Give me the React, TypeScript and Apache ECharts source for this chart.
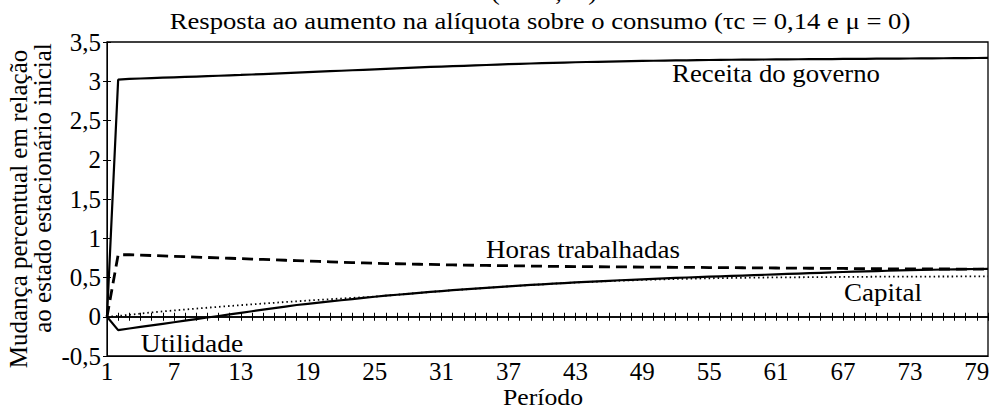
import React, { useEffect, useRef } from "react";
import * as echarts from "echarts";

const FONT = "Liberation Serif";

const periods: string[] = Array.from({ length: 80 }, (_, i) => String(i + 1));

const receita: number[] = [
  0, 3.02, 3.03, 3.035, 3.04, 3.045, 3.05, 3.055, 3.06, 3.065,
  3.07, 3.075, 3.08, 3.086, 3.092, 3.098, 3.104, 3.11, 3.116, 3.122,
  3.128, 3.134, 3.14, 3.146, 3.152, 3.158, 3.164, 3.17, 3.176, 3.182,
  3.187, 3.192, 3.197, 3.202, 3.207, 3.212, 3.217, 3.222, 3.226, 3.23,
  3.234, 3.238, 3.242, 3.245, 3.248, 3.251, 3.254, 3.257, 3.259, 3.261,
  3.263, 3.265, 3.267, 3.269, 3.271, 3.273, 3.274, 3.275, 3.276, 3.277,
  3.278, 3.279, 3.28, 3.281, 3.282, 3.283, 3.284, 3.285, 3.286, 3.287,
  3.288, 3.289, 3.29, 3.291, 3.292, 3.293, 3.294, 3.295, 3.296, 3.297,
];

const horas: number[] = [
  0, 0.79, 0.79, 0.785, 0.78, 0.775, 0.77, 0.765, 0.76, 0.755,
  0.75, 0.745, 0.74, 0.735, 0.73, 0.725, 0.72, 0.715, 0.71, 0.705,
  0.7, 0.695, 0.69, 0.686, 0.682, 0.678, 0.675, 0.672, 0.669, 0.666,
  0.663, 0.66, 0.658, 0.656, 0.654, 0.652, 0.65, 0.648, 0.646, 0.644,
  0.642, 0.64, 0.639, 0.638, 0.637, 0.636, 0.635, 0.634, 0.633, 0.632,
  0.631, 0.63, 0.629, 0.628, 0.627, 0.626, 0.625, 0.624, 0.623, 0.622,
  0.621, 0.62, 0.619, 0.618, 0.617, 0.616, 0.615, 0.614, 0.613, 0.612,
  0.611, 0.61, 0.61, 0.609, 0.609, 0.608, 0.608, 0.607, 0.607, 0.606,
];

const utilidade: number[] = [
  0, -0.17, -0.15, -0.13, -0.11, -0.09, -0.07, -0.05, -0.03, -0.01,
  0.01, 0.03, 0.05, 0.07, 0.09, 0.11, 0.13, 0.15, 0.165, 0.18,
  0.195, 0.21, 0.225, 0.24, 0.255, 0.268, 0.28, 0.292, 0.304, 0.316,
  0.327, 0.338, 0.348, 0.358, 0.368, 0.378, 0.387, 0.396, 0.405, 0.413,
  0.421, 0.429, 0.437, 0.444, 0.451, 0.458, 0.465, 0.471, 0.477, 0.483,
  0.489, 0.495, 0.5, 0.505, 0.51, 0.515, 0.52, 0.525, 0.53, 0.535,
  0.54, 0.545, 0.55, 0.555, 0.56, 0.565, 0.57, 0.574, 0.578, 0.582,
  0.586, 0.59, 0.593, 0.596, 0.599, 0.602, 0.604, 0.606, 0.608, 0.61,
];

const capital: number[] = [
  0, 0.01, 0.025, 0.04, 0.055, 0.068, 0.08, 0.092, 0.104, 0.115,
  0.126, 0.137, 0.148, 0.158, 0.168, 0.178, 0.188, 0.197, 0.206, 0.215,
  0.224, 0.232, 0.24, 0.248, 0.256, 0.268, 0.28, 0.292, 0.304, 0.316,
  0.327, 0.338, 0.348, 0.358, 0.368, 0.378, 0.387, 0.396, 0.405, 0.413,
  0.421, 0.429, 0.436, 0.442, 0.448, 0.454, 0.459, 0.464, 0.469, 0.473,
  0.477, 0.481, 0.484, 0.487, 0.49, 0.492, 0.494, 0.496, 0.498, 0.5,
  0.501, 0.502, 0.503, 0.504, 0.505, 0.506, 0.507, 0.508, 0.509, 0.51,
  0.51, 0.511, 0.511, 0.512, 0.512, 0.513, 0.513, 0.514, 0.514, 0.515,
];

const titleText = "Resposta ao aumento na alíquota sobre o consumo (τc = 0,14 e μ = 0)";
const topFragment = "(σ = 0,99)";
const yNameLines = ["Mudança percentual em relação", "ao estado estacionário inicial"];
const xName = "Período";
const seriesNames = ["Receita do governo", "Horas trabalhadas", "Capital", "Utilidade"];

function txt(text: string, x: number, y: number, size: number, rotation = 0, stretch = 1) {
  return {
    type: "text",
    x,
    y,
    rotation,
    scaleX: stretch,
    silent: true,
    style: {
      text,
      fill: "#000",
      fontFamily: FONT,
      fontSize: size,
      align: "center",
      verticalAlign: "middle",
      textAlign: "center",
      textVerticalAlign: "middle",
    },
  };
}

export default function App() {
  const ref = useRef<HTMLDivElement>(null);
  useEffect(() => {
    if (!ref.current) return;
    const chart = echarts.init(ref.current, null, { renderer: "svg" });
    const black = { color: "#000", width: 1 };
    const option: any = {
      animation: false,
      backgroundColor: "#fff",
      textStyle: { fontFamily: FONT },
      grid: {
        left: 107,
        right: 10,
        top: 42,
        bottom: 53,
        show: true,
        borderColor: "#000",
        borderWidth: 1.3,
        containLabel: false,
      },
      xAxis: [
        {
          type: "category",
          data: periods,
          boundaryGap: false,
          position: "bottom",
          axisLine: { show: true, onZero: false, lineStyle: black },
          axisTick: { show: false },
          axisLabel: {
            interval: 5,
            color: "#000",
            fontFamily: FONT,
            fontSize: 25,
            margin: 3,
          },
          splitLine: { show: false },
        },
        {
          type: "category",
          data: periods,
          boundaryGap: false,
          position: "bottom",
          axisLine: { show: true, onZero: true, onZeroAxisIndex: 0, lineStyle: { color: "#000", width: 1.5 } },
          axisTick: { show: true, interval: 0, inside: true, length: 4, lineStyle: { color: "#000", width: 1 } },
          axisLabel: { show: false },
          splitLine: { show: false },
        },
        {
          type: "category",
          data: periods,
          boundaryGap: false,
          position: "bottom",
          axisLine: { show: true, onZero: true, onZeroAxisIndex: 0, lineStyle: { color: "#000", width: 1.5 } },
          axisTick: { show: true, interval: 0, inside: false, length: 4, lineStyle: { color: "#000", width: 1 } },
          axisLabel: { show: false },
          splitLine: { show: false },
        },
      ],
      yAxis: [
        {
          type: "value",
          min: -0.5,
          max: 3.5,
          interval: 0.5,
          position: "left",
          axisLine: { show: true, onZero: false, lineStyle: black },
          axisTick: { show: true, inside: false, length: 4, lineStyle: black },
          axisLabel: {
            color: "#000",
            fontFamily: FONT,
            fontSize: 25,
            margin: 6,
            formatter: (v: number) => String(v).replace(".", ","),
          },
          splitLine: { show: false },
        },
        {
          type: "value",
          min: -0.5,
          max: 3.5,
          interval: 0.5,
          position: "left",
          axisLine: { show: false, onZero: false },
          axisTick: { show: true, inside: true, length: 4, lineStyle: black },
          axisLabel: { show: false },
          splitLine: { show: false },
        },
      ],
      series: [
        {
          name: seriesNames[2],
          type: "line",
          data: capital,
          xAxisIndex: 0,
          yAxisIndex: 0,
          symbol: "none",
          lineStyle: { color: "#000", width: 1.8, type: [1.5, 3] },
        },
        {
          name: seriesNames[3],
          type: "line",
          data: utilidade,
          xAxisIndex: 0,
          yAxisIndex: 0,
          symbol: "none",
          lineStyle: { color: "#000", width: 2.2, type: "solid" },
        },
        {
          name: seriesNames[1],
          type: "line",
          data: horas,
          xAxisIndex: 0,
          yAxisIndex: 0,
          symbol: "none",
          lineStyle: { color: "#000", width: 2.8, type: [11, 6] },
        },
        {
          name: seriesNames[0],
          type: "line",
          data: receita,
          xAxisIndex: 0,
          yAxisIndex: 0,
          symbol: "none",
          lineStyle: { color: "#000", width: 2.2, type: "solid" },
        },
      ],
      graphic: [
        txt(topFragment, 544, -8, 24, 0, 1.1),
        txt(titleText, 540, 20, 24, 0, 1.11),
        txt(yNameLines[0], 18, 209, 25, Math.PI / 2),
        txt(yNameLines[1], 42, 188, 25, Math.PI / 2),
        txt(seriesNames[0], 776, 74, 25, 0, 1.07),
        txt(seriesNames[1], 583, 250, 25, 0, 1.08),
        txt(seriesNames[2], 883, 293, 25, 0, 1.08),
        txt(seriesNames[3], 192, 344, 25, 0, 1.1),
        txt(xName, 543, 397, 23, 0, 1.12),
      ],
    };
    chart.setOption(option);
    return () => chart.dispose();
  }, []);
  return (
    <div
      ref={ref}
      style={{ position: "fixed", left: 0, top: 0, width: 998, height: 409, background: "#fff" }}
    />
  );
}
